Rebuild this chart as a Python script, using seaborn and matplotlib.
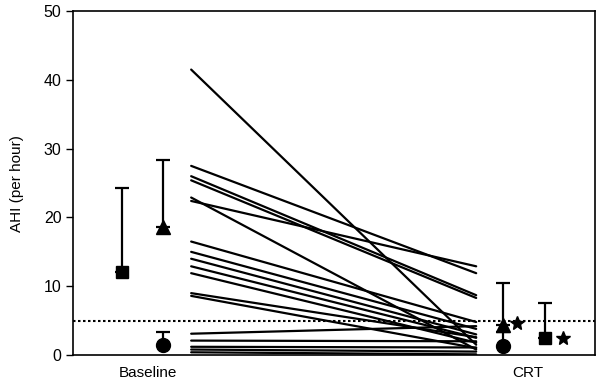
import numpy as np
import pandas as pd
import matplotlib
matplotlib.use("Agg")
import matplotlib.pyplot as plt
import seaborn as sns

# individual patients: AHI at baseline and after CRT
ahi_baseline = [41.5, 27.5, 26.0, 25.4, 22.9, 22.4, 16.5, 15.0, 14.0, 12.9,
                11.9, 9.0, 8.6, 3.1, 2.1, 1.2, 0.8, 0.4]
ahi_crt = [1.5, 11.9, 8.7, 8.3, 0.8, 12.9, 4.8, 3.8, 3.0, 2.5,
           1.8, 2.6, 1.0, 4.2, 2.0, 1.1, 0.5, 0.1]

# group summaries (mean, upper error) for three groups
group_markers = ["s", "^", "o"]
baseline_mean = [12.0, 18.6, 1.5]
baseline_upper = [24.3, 28.4, 3.3]
crt_mean = [2.5, 4.3, 1.3]
crt_upper = [7.6, 10.5, 3.3]
star_values = [4.7, 2.5]

time_labels = ["Baseline", "CRT"]
dotted_level = 5

sns.set_style("white")
plt.rcParams["font.family"] = ["Liberation Sans", "DejaVu Sans"]
plt.rcParams["text.color"] = "black"
plt.rcParams["axes.labelcolor"] = "black"
plt.rcParams["ytick.color"] = "black"

fig = plt.figure(figsize=(6, 3.83), dpi=100)
ax = fig.add_axes([0.122, 0.073, 0.870, 0.898])

# spaghetti lines
df = pd.DataFrame({
    "patient": list(range(len(ahi_baseline))) * 2,
    "time": [2.26] * len(ahi_baseline) + [7.72] * len(ahi_crt),
    "AHI": ahi_baseline + ahi_crt,
})
sns.lineplot(data=df, x="time", y="AHI", units="patient", estimator=None,
             color="black", linewidth=1.6, ax=ax, legend=False)

# group means with upper error bars
base_x = {"s": 0.94, "^": 1.72, "o": 1.72}
crt_x = {"s": 9.04, "^": 8.24, "o": 8.24}
msize = {"s": 9, "^": 10, "o": 10}
for m, bm, bu, cm, cu in zip(group_markers, baseline_mean, baseline_upper,
                             crt_mean, crt_upper):
    for x, mean, up in ((base_x[m], bm, bu), (crt_x[m], cm, cu)):
        ax.errorbar([x], [mean], yerr=[[0], [up - mean]], fmt=m,
                    color="black", markersize=msize[m], capsize=5,
                    elinewidth=1.6, capthick=1.6)

ax.plot([8.5, 9.39], star_values, "*", color="black", markersize=10,
        linestyle="none")

ax.axhline(dotted_level, color="black", linestyle=(0, (1.2, 1.2)),
           linewidth=1.5)

ax.set_xlim(0, 10)
ax.set_ylim(0, 50)
ax.set_yticks([0, 10, 20, 30, 40, 50])
ax.set_xticks([])
ax.set_xlabel("")
ax.set_ylabel("AHI (per hour)", fontsize=11, labelpad=14)
ax.tick_params(axis="y", left=True, direction="out", length=5, width=1,
               labelsize=11.5)
for s in ax.spines.values():
    s.set_color("black")
    s.set_linewidth(1.2)

for x, label in zip([1.44, 8.7], time_labels):
    ax.text(x, -2.6, label, ha="center", va="center", fontsize=11,
            transform=ax.transData)

fig.savefig("out.png", dpi=100)
